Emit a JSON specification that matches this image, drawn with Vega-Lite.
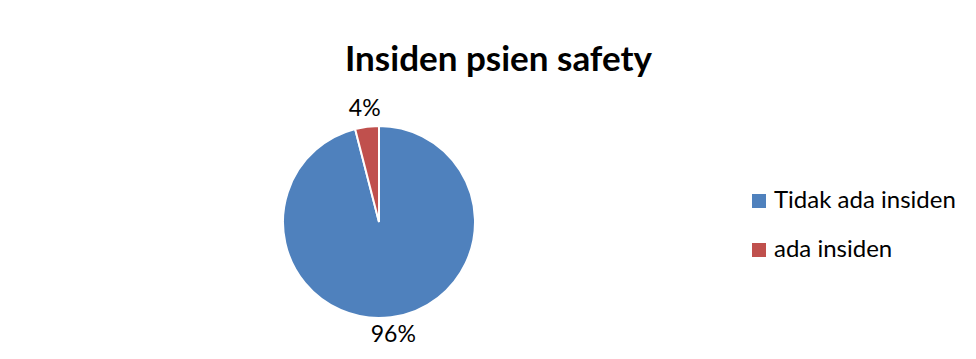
{
  "$schema": "https://vega.github.io/schema/vega-lite/v6.json",
  "width": 742,
  "height": 282,
  "padding": {"top": 43, "left": 8, "right": 0, "bottom": 0},
  "background": "white",
  "title": {
    "text": "Insiden psien safety",
    "font": "Lato",
    "fontSize": 35,
    "fontWeight": "bold",
    "color": "#000000",
    "anchor": "start",
    "dx": 337,
    "offset": 3
  },
  "data": {
    "values": [
      {"kategori": "Tidak ada insiden", "persen": 96, "label": "96%", "urut": 1},
      {"kategori": "ada insiden", "persen": 4, "label": "4%", "urut": 2}
    ]
  },
  "encoding": {
    "theta": {"field": "persen", "type": "quantitative", "stack": true},
    "order": {"field": "urut", "type": "quantitative"},
    "color": {
      "field": "kategori",
      "type": "nominal",
      "scale": {"domain": ["Tidak ada insiden", "ada insiden"], "range": ["#4F81BD", "#C0504D"]},
      "legend": {
        "title": null,
        "orient": "none",
        "legendX": 739,
        "legendY": 108,
        "symbolType": "square",
        "symbolSize": 196,
        "symbolStrokeWidth": 0,
        "labelFont": "Lato",
        "labelFontSize": 24,
        "labelColor": "#000000",
        "labelOffset": 3,
        "rowPadding": 25,
        "labelLimit": 300
      }
    }
  },
  "layer": [
    {
      "mark": {"type": "arc", "outerRadius": 96, "stroke": "white", "strokeWidth": 2}
    },
    {
      "mark": {"type": "text", "radius": 114, "font": "Lato", "fontSize": 23, "color": "#000000"},
      "encoding": {
        "text": {"field": "label", "type": "nominal"},
        "color": {"value": "#000000"}
      }
    }
  ],
  "config": {"view": {"stroke": null}}
}
